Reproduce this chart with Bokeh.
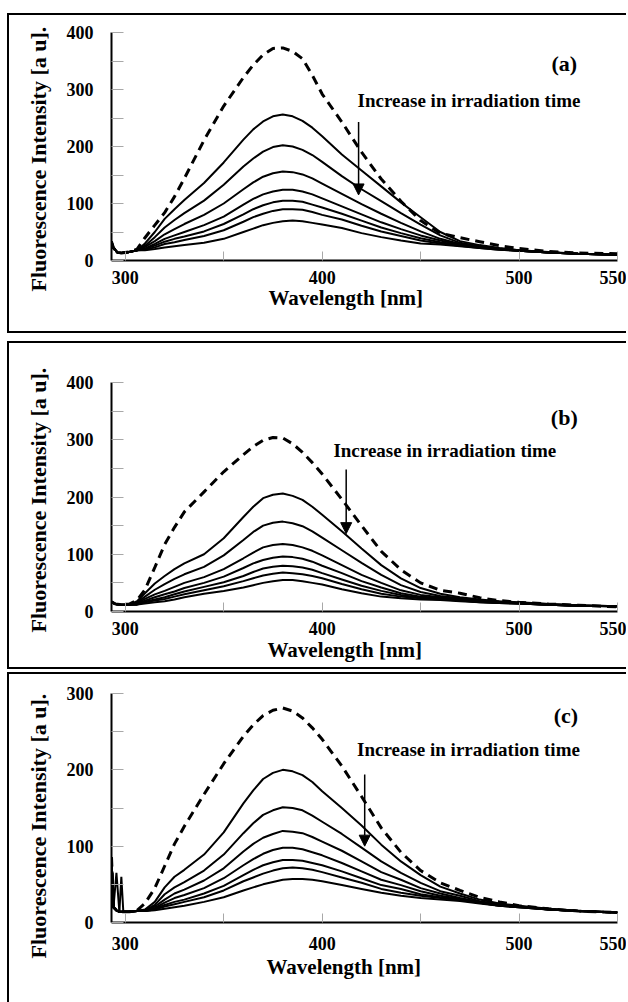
from bokeh.plotting import figure
from bokeh.layouts import column
from bokeh.models import FixedTicker, Label, Arrow, NormalHead, Title
from bokeh.embed import file_html
from bokeh.resources import INLINE

# ---------------- data ----------------
# Panel (a)
wl_a = [293, 294, 296, 298, 302, 306, 310, 315, 320, 325, 330, 340, 350, 360, 365, 370, 375, 380,
        385, 390, 395, 400, 410, 420, 430, 440, 450, 460, 470, 480, 490, 500, 515, 530, 550]
a_dark = [33, 22, 14, 13, 15, 20, 40, 62, 84, 112, 144, 211, 271, 321, 343, 361, 372, 373,
          367, 354, 325, 292, 243, 190, 143, 104, 70, 48, 40, 33, 26, 21, 16, 13, 12]
a_t1 = [33, 22, 14, 13, 15, 18, 30, 50, 73, 90, 106, 136, 172, 212, 230, 244, 253, 256,
        253, 245, 233, 218, 186, 158, 130, 102, 76, 50, 34, 27, 22, 18, 15, 12, 10]
a_t2 = [33, 22, 14, 13, 15, 18, 26, 41, 58, 71, 83, 105, 133, 165, 179, 191, 199, 202,
        200, 194, 185, 173, 148, 125, 104, 83, 63, 44, 31, 25, 21, 18, 14, 12, 10]
a_t3 = [33, 22, 14, 13, 15, 18, 24, 34, 46, 55, 64, 80, 100, 125, 137, 147, 153, 156,
        155, 151, 144, 135, 117, 99, 82, 66, 51, 38, 29, 24, 20, 17, 14, 12, 10]
a_t4 = [33, 22, 14, 13, 15, 18, 21, 29, 38, 44, 50, 62, 77, 98, 108, 116, 121, 124,
        124, 121, 116, 109, 95, 81, 67, 55, 44, 35, 28, 23, 20, 17, 14, 12, 10]
a_t5 = [33, 22, 14, 13, 15, 18, 20, 26, 33, 38, 42, 51, 64, 81, 90, 97, 102, 105,
        105, 103, 98, 93, 82, 70, 58, 48, 39, 32, 27, 23, 20, 17, 14, 12, 10]
a_t6 = [33, 22, 14, 13, 15, 18, 19, 23, 29, 32, 36, 43, 53, 68, 76, 82, 87, 90,
        90, 89, 85, 80, 72, 61, 51, 43, 35, 30, 26, 22, 19, 17, 14, 12, 10]
a_t7 = [33, 22, 14, 13, 15, 18, 18, 20, 23, 25, 27, 31, 38, 50, 56, 62, 66, 69,
        70, 69, 66, 63, 57, 48, 41, 35, 30, 28, 25, 22, 19, 17, 14, 12, 10]

# Panel (b)
wl_b = [293, 295, 298, 302, 306, 310, 315, 320, 325, 330, 340, 350, 360, 365, 370, 375, 380,
        385, 390, 395, 400, 410, 420, 430, 440, 450, 460, 470, 480, 490, 500, 515, 530, 550]
b_dark = [17, 13, 12, 13, 20, 38, 77, 117, 147, 174, 209, 244, 274, 288, 299, 304, 303,
          293, 278, 260, 240, 196, 150, 105, 73, 50, 37, 32, 24, 19, 16, 13, 11, 8]
b_t1 = [17, 13, 12, 12, 18, 32, 49, 62, 74, 84, 100, 128, 165, 183, 198, 204, 206,
        202, 195, 183, 169, 140, 110, 81, 58, 41, 31, 25, 21, 18, 16, 13, 11, 9]
b_t2 = [17, 13, 12, 12, 16, 26, 38, 48, 57, 65, 78, 98, 125, 139, 150, 155, 157,
        154, 149, 140, 129, 107, 85, 64, 46, 34, 27, 23, 19, 17, 15, 13, 11, 9]
b_t3 = [17, 13, 12, 12, 15, 22, 30, 36, 43, 50, 60, 74, 93, 103, 112, 116, 118,
        116, 112, 106, 98, 81, 64, 50, 37, 29, 25, 21, 18, 16, 15, 12, 10, 9]
b_t4 = [17, 13, 12, 12, 14, 19, 25, 30, 35, 41, 50, 61, 76, 84, 90, 94, 96,
        95, 92, 87, 80, 67, 53, 42, 32, 26, 23, 20, 17, 16, 14, 12, 10, 9]
b_t5 = [17, 13, 12, 12, 13, 17, 21, 25, 30, 35, 43, 51, 62, 69, 75, 78, 80,
        79, 77, 73, 67, 56, 45, 36, 29, 24, 22, 19, 17, 15, 14, 12, 10, 9]
b_t6 = [17, 13, 12, 12, 12, 16, 19, 22, 26, 30, 37, 44, 53, 58, 63, 66, 68,
        67, 65, 62, 58, 48, 39, 31, 26, 23, 21, 19, 16, 15, 14, 12, 10, 9]
b_t7 = [17, 13, 12, 12, 12, 14, 16, 18, 21, 25, 31, 36, 42, 46, 50, 53, 55,
        55, 53, 50, 47, 39, 32, 26, 23, 21, 20, 18, 16, 15, 14, 12, 10, 9]

# Panel (c)
wl_c = [293, 294, 295.5, 297, 298, 299, 302, 306, 310, 315, 320, 325, 330, 340, 350, 360, 365,
        370, 375, 380, 385, 390, 395, 400, 410, 420, 430, 440, 450, 460, 470, 480, 490, 500,
        515, 530, 550]
c_dark = [85, 20, 16, 14, 14, 14, 14, 16, 25, 45, 74, 103, 126, 168, 208, 244, 259,
          271, 278, 281, 277, 268, 255, 240, 205, 165, 124, 92, 68, 52, 42, 33, 27, 22,
          18, 15, 13]
c_t1 = [85, 20, 65, 14, 14, 14, 14, 15, 17, 27, 46, 60, 69, 89, 118, 156, 173,
        188, 196, 200, 198, 193, 184, 172, 150, 127, 102, 80, 62, 47, 38, 30, 25, 22,
        18, 15, 13]
c_t2 = [85, 20, 16, 14, 60, 14, 14, 15, 16, 23, 37, 46, 53, 68, 89, 117, 130,
        141, 147, 151, 150, 147, 140, 132, 116, 98, 80, 65, 52, 41, 35, 28, 24, 21,
        18, 15, 13]
c_t3 = [85, 20, 16, 14, 14, 14, 14, 15, 16, 21, 30, 38, 43, 55, 71, 93, 103,
        111, 116, 120, 119, 117, 112, 106, 94, 80, 66, 56, 45, 38, 32, 27, 23, 21,
        17, 15, 13]
c_t4 = [85, 20, 16, 14, 14, 14, 14, 15, 16, 19, 26, 32, 36, 45, 58, 75, 83,
        90, 95, 98, 98, 96, 92, 88, 78, 67, 56, 49, 41, 35, 31, 26, 23, 21,
        17, 15, 13]
c_t5 = [85, 20, 16, 14, 14, 14, 14, 15, 15, 18, 23, 27, 30, 38, 48, 62, 69,
        75, 79, 82, 82, 81, 78, 75, 67, 58, 49, 44, 37, 33, 30, 26, 22, 20,
        17, 15, 13]
c_t6 = [85, 20, 16, 14, 14, 14, 14, 15, 15, 17, 21, 24, 27, 33, 42, 54, 59,
        64, 68, 71, 72, 71, 69, 66, 59, 52, 44, 39, 35, 32, 29, 26, 22, 20,
        17, 15, 13]
c_t7 = [85, 20, 16, 14, 14, 14, 14, 15, 15, 16, 18, 20, 22, 27, 33, 42, 46,
        50, 53, 56, 57, 57, 56, 54, 49, 44, 39, 35, 32, 30, 28, 25, 22, 20,
        17, 15, 13]

x_ticks = [300, 400, 500, 550]
x_minor = [350, 450]
y_ticks_400 = [0, 100, 200, 300, 400]
y_minor_400 = [50, 150, 250, 350]
y_ticks_300 = [0, 100, 200, 300]
y_minor_300 = [50, 150, 250]

annotation_text = "Increase in irradiation time"
x_title = "Wavelength [nm]"
y_title = "Fluorescence Intensity [a u]."

FONT = "Liberation Serif"


def panel(wl, solids, dark, ymax, yt, ym, tag, height, mtop, btop, bbot,
          tag_xy, txt_xy, arr, x_lab_standoff, xt_off, xt_stand, yt_off,
          bottom_border=True):
    p = figure(width=619, height=height, x_range=(293, 550), y_range=(0, ymax),
               output_backend="svg", toolbar_location=None,
               min_border_left=102, min_border_right=11,
               min_border_top=btop, min_border_bottom=bbot)
    p.margin = (mtop, 0, 0, 7)
    st = {"border-left": "2px solid black", "border-top": "2px solid black"}
    if bottom_border:
        st["border-bottom"] = "2px solid black"
    p.styles = st
    p.grid.visible = False
    p.outline_line_color = None
    p.background_fill_color = "white"
    p.border_fill_color = "white"

    for ys in solids:
        p.line(wl, ys, line_color="black", line_width=2)
    p.line(wl, dark, line_color="black", line_width=3, line_dash="9 6")

    p.xaxis.ticker = FixedTicker(ticks=x_ticks, minor_ticks=x_minor)
    p.yaxis.ticker = FixedTicker(ticks=yt, minor_ticks=ym)
    for ax in (p.xaxis[0], p.yaxis[0]):
        ax.axis_line_color = "black"
        ax.axis_line_width = 2
        ax.major_tick_out = 0
        ax.minor_tick_out = 0
        ax.major_tick_line_color = "#a8a8a8"
        ax.minor_tick_line_color = "#a8a8a8"
        ax.major_tick_line_width = 1
        ax.minor_tick_line_width = 1
        ax.major_label_text_font = FONT
        ax.major_label_text_font_style = "bold"
        ax.major_label_text_font_size = "18px"
        ax.major_label_text_color = "black"
    xa = p.xaxis[0]
    ya = p.yaxis[0]
    xa.major_tick_in = 9
    xa.minor_tick_in = 9
    ya.major_tick_in = 12
    ya.minor_tick_in = 12
    xa.major_label_standoff = x_lab_standoff
    ya.major_label_standoff = 18

    # axis titles, placed off-centre as in the original
    p.add_layout(Title(text=x_title, align="left", offset=xt_off, standoff=xt_stand,
                       text_font=FONT, text_font_style="bold", text_font_size="21px",
                       text_color="black"), "below")
    p.add_layout(Title(text=y_title, align="left", offset=yt_off, standoff=25,
                       text_font=FONT, text_font_style="bold", text_font_size="22px",
                       text_color="black"), "left")

    p.add_layout(Label(x=tag_xy[0], y=tag_xy[1], text=tag, text_align="right",
                       text_baseline="alphabetic", text_font=FONT,
                       text_font_style="bold", text_font_size="22px", text_color="black"))
    p.add_layout(Label(x=txt_xy[0], y=txt_xy[1], text=annotation_text, text_align="left",
                       text_baseline="alphabetic", text_font=FONT,
                       text_font_style="bold", text_font_size="19px", text_color="black"))
    p.add_layout(Arrow(end=NormalHead(size=11, fill_color="black", line_color="black"),
                       x_start=arr[0], y_start=arr[1], x_end=arr[0], y_end=arr[2],
                       line_color="black", line_width=1.5))
    return p


pa = panel(wl_a, [a_t1, a_t2, a_t3, a_t4, a_t5, a_t6, a_t7], a_dark, 400,
           y_ticks_400, y_minor_400, "(a)", 320, 13, 17, 75,
           (529.5, 346), (418, 280), (418.5, 243, 115), 10, 157, -5, -31)
pb = panel(wl_b, [b_t1, b_t2, b_t3, b_t4, b_t5, b_t6, b_t7], b_dark, 400,
           y_ticks_400, y_minor_400, "(b)", 328, 8, 39, 60,
           (529.8, 339), (405.7, 282), (412.2, 248, 136), 10, 156, -4, -21)
pc = panel(wl_c, [c_t1, c_t2, c_t3, c_t4, c_t5, c_t6, c_t7], c_dark, 300,
           y_ticks_300, y_minor_300, "(c)", 330, 3, 19, 82,
           (530, 271), (417.7, 227), (421.6, 194, 100), 14, 155, 0, -36,
           bottom_border=False)

layout = column(pa, pb, pc, spacing=0)
open("out.html", "w").write(file_html(layout, INLINE))
